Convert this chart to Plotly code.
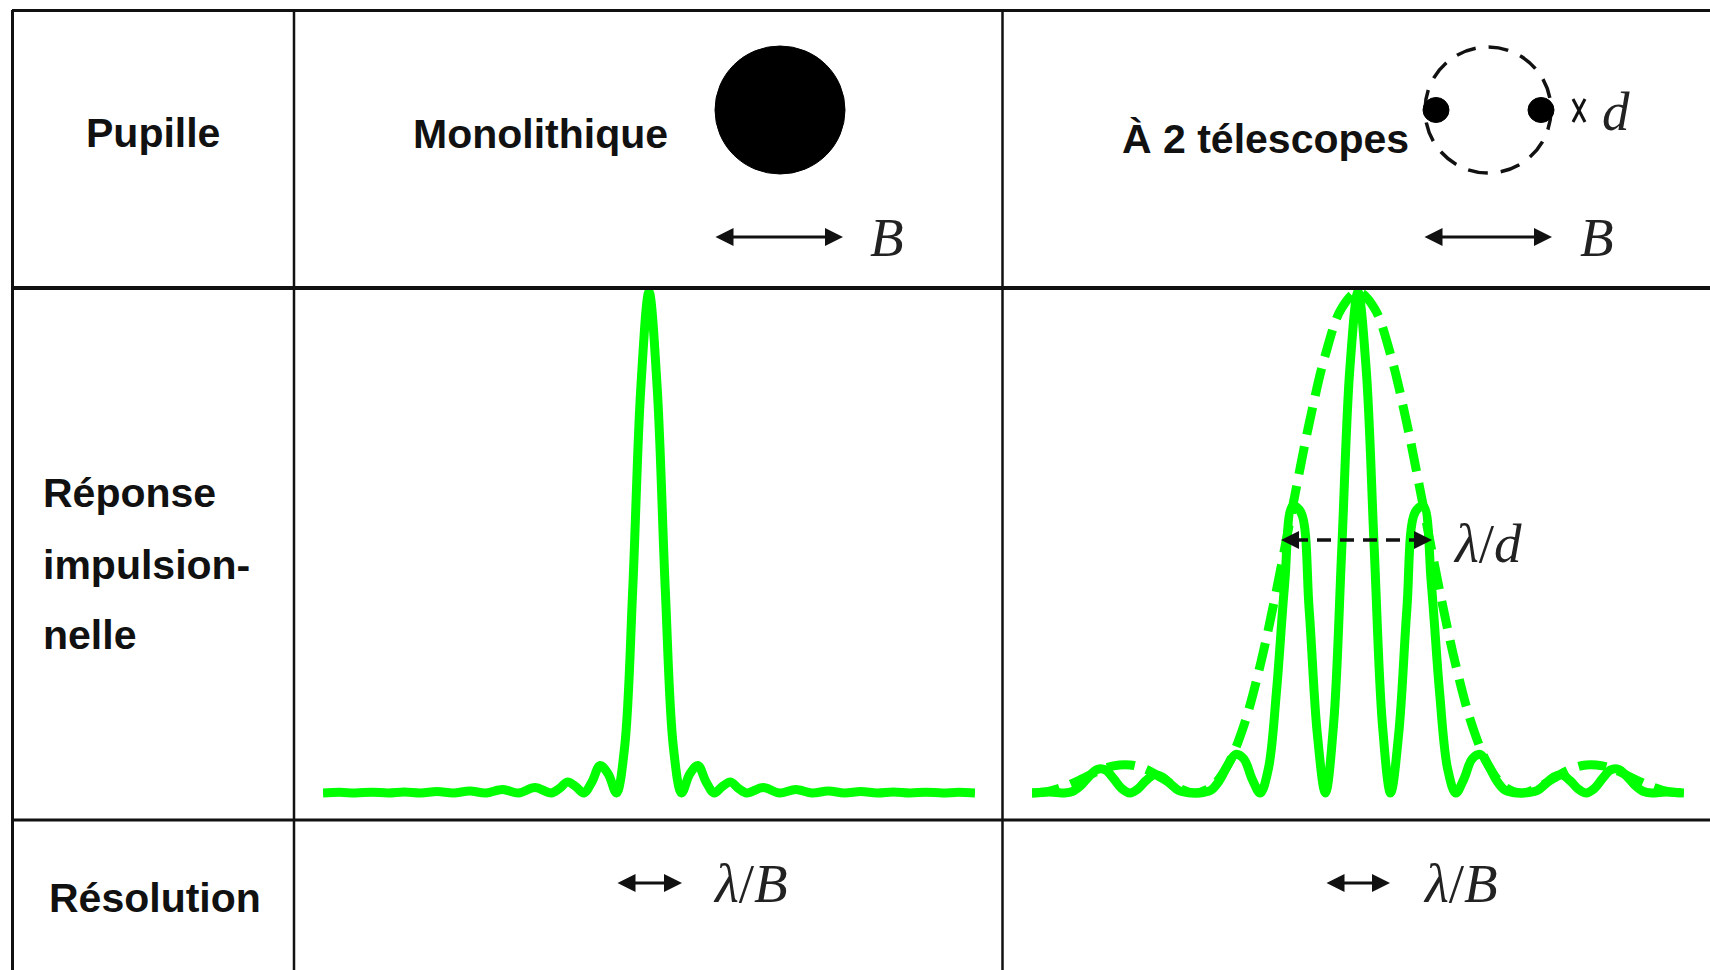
import plotly.graph_objects as go

# ---- data: impulse responses, abscissa in units of lambda/B ----
s_mono = [-10, -9.5, -9, -8.5, -8, -7.5, -7, -6.5, -6, -5.5, -5, -4.5, -4, -3.5, -3,
          -2.75, -2.5, -2.25, -2, -1.75, -1.5, -1.25, -1, -0.75, -0.5, -0.25, 0,
          0.25, 0.5, 0.75, 1, 1.25, 1.5, 1.75, 2, 2.25, 2.5, 2.75,
          3, 3.5, 4, 4.5, 5, 5.5, 6, 6.5, 7, 7.5, 8, 8.5, 9, 9.5, 10]
psf_mono = [0, 0.0012, 0, 0.0015, 0, 0.002, 0, 0.003, 0, 0.004, 0, 0.007, 0, 0.011, 0,
            0.009, 0.022, 0.013, 0, 0.022, 0.055, 0.038, 0, 0.09, 0.405, 0.81, 1.0,
            0.81, 0.405, 0.09, 0, 0.038, 0.055, 0.022, 0, 0.013, 0.022, 0.009,
            0, 0.011, 0, 0.007, 0, 0.004, 0, 0.003, 0, 0.002, 0, 0.0015, 0, 0.0012, 0]

s_inter = [-10, -9.75, -9.5, -9.25, -9, -8.75, -8.5, -8.25, -8, -7.75, -7.5, -7.25, -7,
           -6.75, -6.5, -6.25, -6, -5.75, -5.5, -5.25, -5, -4.75, -4.5, -4.25, -4,
           -3.75, -3.5, -3.25, -3, -2.75, -2.5, -2.25, -2, -1.75, -1.5, -1.25, -1,
           -0.75, -0.5, -0.25, 0, 0.25, 0.5, 0.75, 1, 1.25, 1.5, 1.75, 2, 2.25, 2.5,
           2.75, 3, 3.25, 3.5, 3.75, 4, 4.25, 4.5, 4.75, 5, 5.25, 5.5, 5.75, 6, 6.25,
           6.5, 6.75, 7, 7.25, 7.5, 7.75, 8, 8.25, 8.5, 8.75, 9, 9.25, 9.5, 9.75, 10]
psf_inter = [0, 0.001, 0.002, 0.001, 0, 0.003, 0.015, 0.033, 0.047, 0.046, 0.029, 0.009, 0,
             0.008, 0.025, 0.036, 0.032, 0.018, 0.005, 0.001, 0, 0.001, 0.006, 0.025, 0.055,
             0.077, 0.068, 0.028, 0, 0.048, 0.203, 0.417, 0.573, 0.56, 0.368, 0.119, 0,
             0.136, 0.484, 0.847, 1.0, 0.847, 0.484, 0.136, 0, 0.119, 0.368, 0.56, 0.573, 0.417, 0.203,
             0.048, 0, 0.028, 0.068, 0.077, 0.055, 0.025, 0.006, 0.001, 0, 0.001, 0.005, 0.018, 0.032, 0.036,
             0.025, 0.008, 0, 0.009, 0.029, 0.046, 0.047, 0.033, 0.015, 0.003, 0, 0.001, 0.002, 0.001, 0]

s_env = [-10, -9.5, -9, -8.5, -8, -7.5, -7, -6.5, -6, -5.5, -5, -4.5, -4, -3.5, -3, -2.5,
         -2, -1.5, -1, -0.5, 0, 0.5, 1, 1.5, 2, 2.5, 3, 3.5, 4, 4.5, 5, 5.5, 6, 6.5, 7,
         7.5, 8, 8.5, 9, 9.5, 10]
env_inter = [0, 0.003, 0.013, 0.027, 0.043, 0.054, 0.056, 0.047, 0.029, 0.01, 0, 0.012, 0.055,
             0.135, 0.255, 0.405, 0.573, 0.737, 0.875, 0.968, 1.0, 0.968, 0.875, 0.737, 0.573,
             0.405, 0.255, 0.135, 0.055, 0.012, 0, 0.01, 0.029, 0.047, 0.056, 0.054, 0.043,
             0.027, 0.013, 0.003, 0]

# ---- table labels ----
row_labels = ["Pupille", "Réponse", "impulsion-", "nelle", "Résolution"]
col_labels = ["Monolithique", "À 2 télescopes"]

W, H = 1710, 970
GREEN = "#00FF00"
INK = "#111111"

fig = go.Figure()

fig.add_trace(go.Scatter(x=s_mono, y=psf_mono, mode="lines",
                         line=dict(color=GREEN, width=9, shape="spline", smoothing=1.0),
                         xaxis="x", yaxis="y", hoverinfo="skip"))
fig.add_trace(go.Scatter(x=s_env, y=env_inter, mode="lines",
                         line=dict(color=GREEN, width=9, dash="28px,12px", shape="spline", smoothing=1.0),
                         xaxis="x2", yaxis="y2", hoverinfo="skip"))
fig.add_trace(go.Scatter(x=s_inter, y=psf_inter, mode="lines",
                         line=dict(color=GREEN, width=9, shape="spline", smoothing=1.0),
                         xaxis="x2", yaxis="y2", hoverinfo="skip"))


def px_x(v):
    return v / W


def px_y(v):
    return 1 - v / H


hidden = dict(visible=False, showgrid=False, zeroline=False, fixedrange=True)
ydom = [px_y(813), px_y(287)]

fig.update_layout(
    width=W, height=H,
    margin=dict(l=0, r=0, t=0, b=0),
    paper_bgcolor="white", plot_bgcolor="rgba(0,0,0,0)",
    showlegend=False,
    xaxis=dict(domain=[px_x(323), px_x(975)], range=[-10, 10], **hidden),
    yaxis=dict(domain=ydom, range=[-0.04, 1.01], **hidden),
    xaxis2=dict(domain=[px_x(1032), px_x(1684)], range=[-10, 10], anchor="y2", **hidden),
    yaxis2=dict(domain=ydom, range=[-0.04, 1.01], anchor="x2", **hidden),
    # pixel-space overlay used for the table frame and the pupil sketches
    xaxis3=dict(domain=[0, 1], range=[0, W], anchor="y3", **hidden),
    yaxis3=dict(domain=[0, 1], range=[H, 0], anchor="x3", **hidden),
)

shapes = []


def seg(x0, y0, x1, y1, width=2.5, dash="solid", color=INK):
    shapes.append(dict(type="line", xref="x3", yref="y3", x0=x0, y0=y0, x1=x1, y1=y1,
                       line=dict(color=color, width=width, dash=dash)))


# table frame
seg(12, 10.5, W, 10.5, width=3)
seg(12.5, 10, 12.5, H, width=3)
seg(294, 10, 294, H, width=2.5)
seg(1002.5, 10, 1002.5, H, width=2.5)
seg(12, 288, W, 288, width=4)
seg(12, 820, W, 820, width=3)

# monolithic pupil
shapes.append(dict(type="circle", xref="x3", yref="y3", x0=715, x1=845, y0=46, y1=174,
                   fillcolor="black", line=dict(color="black", width=1)))
# two-telescope pupil: dashed outline and two sub-apertures
shapes.append(dict(type="circle", xref="x3", yref="y3", x0=1425, x1=1551, y0=47, y1=173,
                   line=dict(color=INK, width=3.5, dash="20px,13px")))
for cx in (1436, 1541):
    shapes.append(dict(type="circle", xref="x3", yref="y3", x0=cx - 13, x1=cx + 13,
                       y0=97.5, y1=122.5, fillcolor="black", line=dict(color="black", width=1)))
# tiny size mark for d
seg(1573, 99, 1585, 122, width=3)
seg(1585, 99, 1573, 122, width=3)
# dashed fringe-spacing bar
seg(1294, 540, 1419, 540, width=3.5, dash="14px,9px")

fig.update_layout(shapes=shapes)

ann = []


def label(text, x, y, xanchor="left", size=41):
    ann.append(dict(text=f"<b>{text}</b>", x=x, y=y, xref="x3", yref="y3",
                    xanchor=xanchor, yanchor="middle", showarrow=False,
                    font=dict(family="Liberation Sans, Arial, sans-serif", size=size, color=INK)))


def math(text, x, y, size=55):
    ann.append(dict(text=text, x=x, y=y, xref="x3", yref="y3",
                    xanchor="center", yanchor="middle", showarrow=False,
                    font=dict(family="Liberation Serif, serif", size=size, color="#222222")))


def dbl_arrow(x0, x1, y, width=3):
    ann.append(dict(text="", x=x1, y=y, ax=x0, ay=y, xref="x3", yref="y3",
                    axref="x3", ayref="y3", showarrow=True, arrowhead=2,
                    arrowside="end+start", arrowsize=1.2, arrowwidth=width,
                    arrowcolor=INK, standoff=0, startstandoff=0))


def head(x_tip, x_tail, y):
    ann.append(dict(text="", x=x_tip, y=y, ax=x_tail, ay=y, xref="x3", yref="y3",
                    axref="x3", ayref="y3", showarrow=True, arrowhead=2,
                    arrowsize=1.2, arrowwidth=3, arrowcolor=INK, standoff=0))


label(row_labels[0], 153, 133, xanchor="center")
label(row_labels[1], 41, 493)
label(row_labels[2], 41, 565)
label(row_labels[3], 41, 635)
label(row_labels[4], 47, 898)
label(col_labels[0], 411, 134)
label(col_labels[1], 1120, 139)

dbl_arrow(714, 843, 237)
math("<i>B</i>", 887, 237)
dbl_arrow(1423, 1552, 237)
math("<i>B</i>", 1597, 237)
math("<i>d</i>", 1616, 111)

head(1281, 1299, 540)
head(1432, 1414, 540)
math("<i>λ</i>/<i>d</i>", 1487, 543)

dbl_arrow(616, 682, 883)
math("<i>λ</i>/<i>B</i>", 750, 883)
dbl_arrow(1325, 1390, 883)
math("<i>λ</i>/<i>B</i>", 1460, 883)

fig.update_layout(annotations=ann)

fig.write_html("out.html")
